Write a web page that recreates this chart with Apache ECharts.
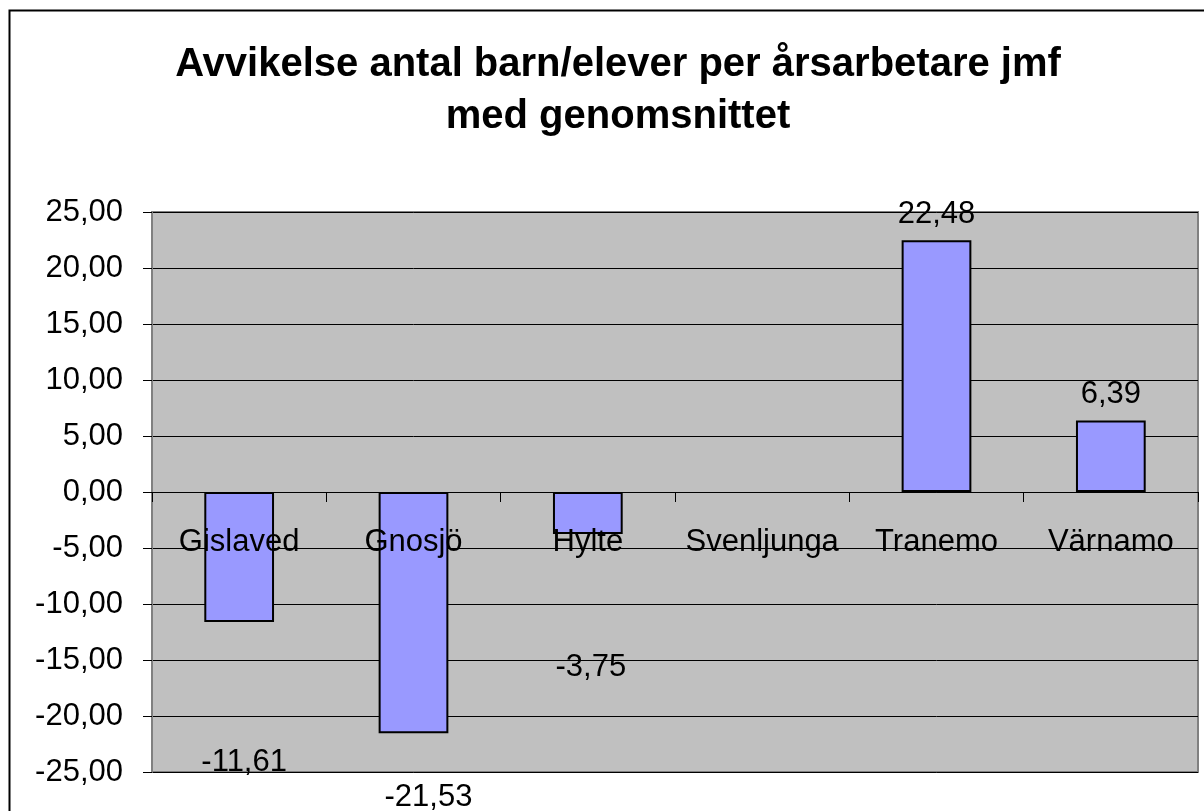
<!DOCTYPE html>
<html>
<head>
<meta charset="utf-8">
<script src="https://cdn.jsdelivr.net/npm/echarts@6/dist/echarts.min.js"></script>
<style>
  html, body { margin: 0; padding: 0; background: #fff; }
  #chart { width: 1204px; height: 811px; }
</style>
</head>
<body>
<div id="chart"></div>
<script>
// data
var kommuner = ['Gislaved', 'Gnosjö', 'Hylte', 'Svenljunga', 'Tranemo', 'Värnamo'];
var avvikelse = [-11.61, -21.53, -3.75, null, 22.48, 6.39];
var yTicks = { min: -25, max: 25, step: 5 };

var font = 'Liberation Sans, Arial, sans-serif';
// excel puts the negative labels further down, push them by hand
var labelShift = [[5, 115], [15, 39], [3, 108], [0, 0], [0, 0], [0, 0]];

function komma(v) {
  return v.toFixed(2).replace('.', ',');
}

var myChart = echarts.init(document.getElementById('chart'));

var option = {
  backgroundColor: '#fff',
  animation: false,
  title: {
    text: 'Avvikelse antal barn/elever per årsarbetare jmf\nmed genomsnittet',
    left: 613,
    textAlign: 'center',
    top: 34,
    textStyle: {
      fontFamily: font,
      fontSize: 40,
      fontWeight: 'bold',
      color: '#000',
      lineHeight: 52
    }
  },
  graphic: [{
    type: 'rect',
    shape: { x: 9.5, y: 10.5, width: 1220, height: 830 },
    style: { fill: null, stroke: '#000', lineWidth: 2 },
    silent: true
  }],
  grid: {
    left: 152,
    top: 212,
    width: 1046,
    height: 560,
    outerBoundsMode: 'none',
    containLabel: false,
    show: true,
    backgroundColor: '#C0C0C0',
    borderColor: '#808080',
    borderWidth: 2
  },
  xAxis: {
    type: 'category',
    data: kommuner,
    z: 10,
    position: 'bottom',
    // axis sits on the zero line: 25 of 50 units up from the bottom
    offset: -280,
    axisLine: { onZero: false, lineStyle: { color: '#000', width: 1 } },
    axisTick: { show: true, interval: 0, length: 10, lineStyle: { color: '#000' } },
    axisLabel: {
      interval: 0,
      margin: 35,
      fontFamily: font,
      fontSize: 31,
      color: '#000'
    },
    splitLine: { show: false }
  },
  yAxis: {
    type: 'value',
    min: yTicks.min,
    max: yTicks.max,
    interval: yTicks.step,
    axisLine: { show: true, lineStyle: { color: '#808080', width: 2 } },
    axisTick: { show: true, length: 9, lineStyle: { color: '#000' } },
    axisLabel: {
      margin: 29,
      fontFamily: font,
      fontSize: 31,
      color: '#000',
      formatter: komma
    },
    splitLine: { show: true, lineStyle: { color: '#000', width: 1 } }
  },
  series: [{
    type: 'bar',
    barWidth: '40%',
    data: avvikelse.map(function (v, i) {
      return {
        value: v,
        label: { offset: labelShift[i] }
      };
    }),
    itemStyle: {
      color: '#9999FF',
      borderColor: '#000',
      borderWidth: 2
    },
    label: {
      show: true,
      position: 'outside',
      distance: 10,
      fontFamily: font,
      fontSize: 31,
      color: '#000',
      formatter: function (p) {
        return p.value == null ? '' : komma(p.value);
      }
    }
  }]
};

myChart.setOption(option);
</script>
</body>
</html>
